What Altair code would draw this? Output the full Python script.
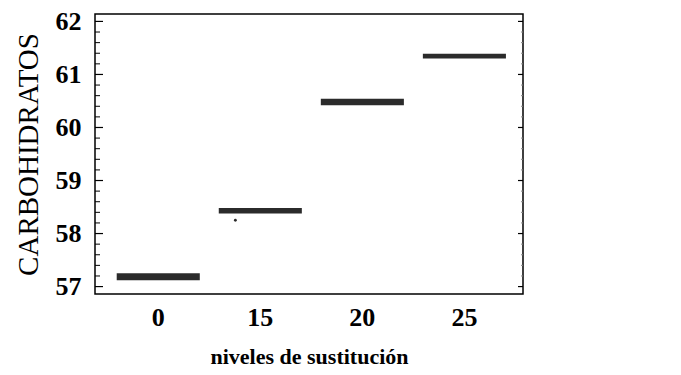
import altair as alt
import pandas as pd

categories = ["0", "15", "20", "25"]
box_low = [57.12, 58.38, 60.42, 61.30]
box_high = [57.25, 58.48, 60.54, 61.39]
outlier_cat = ["15"]
outlier_val = [58.25]
major_ticks = [57, 58, 59, 60, 61, 62]
minor_ticks = [57.2, 57.4, 57.6, 57.8, 58.2, 58.4, 58.6, 58.8, 59.2, 59.4, 59.6, 59.8,
               60.2, 60.4, 60.6, 60.8, 61.2, 61.4, 61.6, 61.8]

boxes = pd.DataFrame({"cat": categories, "low": box_low, "high": box_high})
outliers = pd.DataFrame({"cat": outlier_cat, "v": outlier_val})
majors = pd.DataFrame({"v": major_ticks})
minors = pd.DataFrame({"v": minor_ticks})

yscale = alt.Scale(domain=[56.86, 62.14], nice=False, zero=False)
xscale = alt.Scale(paddingInner=0.186, paddingOuter=0.19, align=0.56)
yaxis = alt.Axis(title="CARBOHIDRATOS", values=major_ticks)
xaxis = alt.Axis(title="niveles de sustitución", labelAngle=0)

W, H = 428, 280

bars = alt.Chart(boxes).mark_bar(color="#2b2b2b").encode(
    x=alt.X("cat:N", scale=xscale, sort=categories, axis=xaxis),
    y=alt.Y("low:Q", scale=yscale, axis=yaxis),
    y2="high:Q",
)

dot = alt.Chart(outliers).mark_circle(color="#2b2b2b", size=8, opacity=1).encode(
    x=alt.X("cat:N", scale=xscale, sort=categories, bandPosition=0.2, axis=xaxis),
    y=alt.Y("v:Q", scale=yscale, axis=yaxis),
)

left_major = alt.Chart(majors).mark_rule(color="black", strokeWidth=1.2).encode(
    y=alt.Y("v:Q", scale=yscale, axis=yaxis), x=alt.value(0), x2=alt.value(8))
left_minor = alt.Chart(minors).mark_rule(color="black", strokeWidth=1).encode(
    y=alt.Y("v:Q", scale=yscale, axis=yaxis), x=alt.value(0), x2=alt.value(5))
right_major = alt.Chart(majors).mark_rule(color="black", strokeWidth=1.2).encode(
    y=alt.Y("v:Q", scale=yscale, axis=yaxis), x=alt.value(W - 5), x2=alt.value(W))
right_minor = alt.Chart(minors).mark_rule(color="#888", strokeWidth=1).encode(
    y=alt.Y("v:Q", scale=yscale, axis=yaxis), x=alt.value(W - 2), x2=alt.value(W))

chart = alt.layer(bars, dot, left_major, left_minor, right_major, right_minor).properties(
    width=W, height=H,
    padding={"left": 5, "top": 0, "right": 5, "bottom": 0},
).configure_view(
    stroke="black", strokeWidth=1.5
).configure_axis(
    grid=False, ticks=False, domain=False,
    labelFont="Liberation Serif", labelFontWeight="bold", labelFontSize=26,
    labelColor="black", titleColor="black", titleFont="Liberation Serif",
).configure_axisY(
    labelPadding=14, titleFontSize=29, titleFontWeight="normal", titlePadding=12,
).configure_axisX(
    labelPadding=10, titleFontSize=22, titleFontWeight="bold", titlePadding=16,
)

chart.save("out.html", embed_options={"renderer": "svg", "actions": False})
